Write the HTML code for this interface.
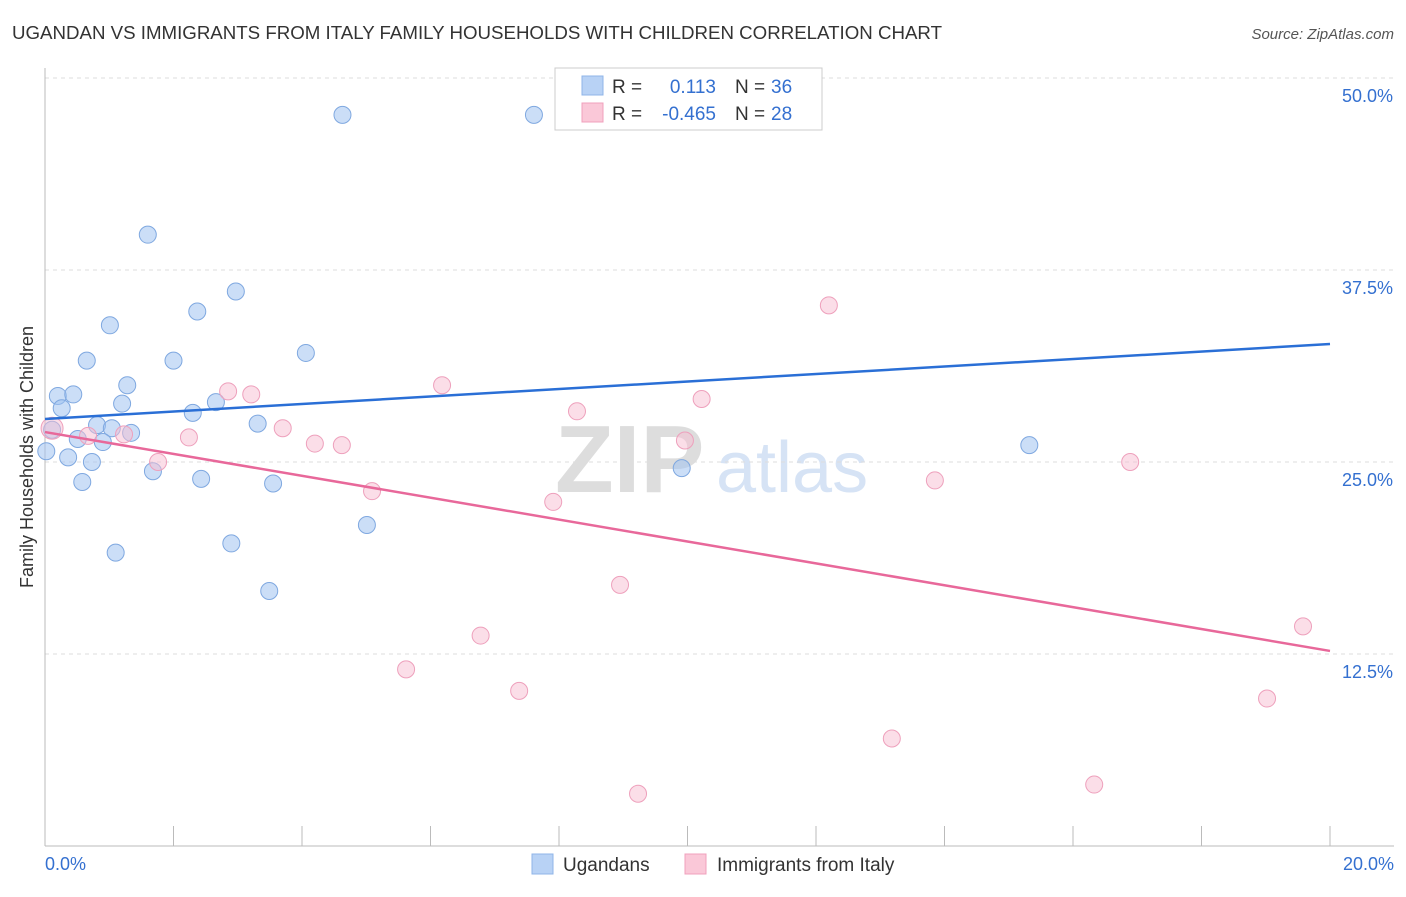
<!DOCTYPE html>
<html><head><meta charset="utf-8"><style>
body{margin:0;background:#fff;font-family:"Liberation Sans",sans-serif;}
svg text{font-family:"Liberation Sans",sans-serif;}
</style></head><body>
<svg id="c" width="1406" height="892">
<text x="12" y="39" font-size="18.7" fill="#333">UGANDAN VS IMMIGRANTS FROM ITALY FAMILY HOUSEHOLDS WITH CHILDREN CORRELATION CHART</text>
<text x="1394" y="39" font-size="15" fill="#555" font-style="italic" text-anchor="end">Source: ZipAtlas.com</text>
<text x="33" y="457" font-size="18" fill="#333" text-anchor="middle" transform="rotate(-90 33 457)">Family Households with Children</text>
<g><text x="555" y="492" font-size="96" fill="#ddd" font-family="Liberation Serif" font-weight="bold">ZIP</text><text x="716" y="492" font-size="72" fill="#d6e3f5">atlas</text></g>
<g id="grid"></g><g id="marks"></g>
<g>
<rect x="555" y="68" width="267" height="62" fill="#fff" stroke="#ccc"/>
<rect x="582" y="76" width="21" height="19" fill="#b8d2f5" stroke="#8fb4e8"/>
<rect x="582" y="103" width="21" height="19" fill="#fac8d8" stroke="#f0a0bc"/>
<text x="612" y="93" font-size="19" fill="#333">R =</text><text x="716" y="93" font-size="19" fill="#3470d0" text-anchor="end">0.113</text>
<text x="735" y="93" font-size="19" fill="#333">N =</text><text x="771" y="93" font-size="19" fill="#3470d0">36</text>
<text x="612" y="120" font-size="19" fill="#333">R =</text><text x="716" y="120" font-size="19" fill="#3470d0" text-anchor="end">-0.465</text>
<text x="735" y="120" font-size="19" fill="#333">N =</text><text x="771" y="120" font-size="19" fill="#3470d0">28</text>
</g>
<g>
<rect x="532" y="854" width="21" height="20" fill="#b8d2f5" stroke="#8fb4e8"/>
<text x="563" y="871" font-size="19" fill="#333">Ugandans</text>
<rect x="685" y="854" width="21" height="20" fill="#fac8d8" stroke="#f0a0bc"/>
<text x="717" y="871" font-size="19" fill="#333">Immigrants from Italy</text>
</g>
</svg>
<script>
const yTicks=[12.5,25,37.5,50];
const yTickLabels=["12.5%","25.0%","37.5%","50.0%"];
const xTicks=[0,2,4,6,8,10,12,14,16,18,20];
const blueX=[4.63,7.61,1.6,2.97,1.01,2.37,4.06,0.65,2.0,1.28,0.2,0.44,0.26,1.2,2.66,2.3,0.81,1.04,1.34,3.31,0.11,0.51,0.90,0.02,0.36,0.73,1.68,9.91,15.32,0.58,2.43,3.55,5.01,1.1,2.9,3.49];
const blueY=[47.6,47.6,39.8,36.1,33.9,34.8,32.1,31.6,31.6,30.0,29.3,29.4,28.5,28.8,28.9,28.2,27.4,27.2,26.9,27.5,27.1,26.5,26.3,25.7,25.3,25.0,24.4,24.6,26.1,23.7,23.9,23.6,20.9,19.1,19.7,16.6];
const pinkX=[0.11,1.23,0.67,2.24,1.76,2.85,3.21,3.7,4.2,4.62,5.09,6.18,8.28,7.91,10.22,9.96,12.2,8.95,6.78,5.62,7.38,9.23,13.18,13.85,16.89,19.58,19.02,16.33];
const pinkY=[27.2,26.8,26.7,26.6,25.0,29.6,29.4,27.2,26.2,26.1,23.1,30.0,28.3,22.4,29.1,26.4,35.2,17.0,13.7,11.5,10.1,3.4,7.0,23.8,25.0,14.3,9.6,4.0];
const blueTrend=[27.8,32.68];
const pinkTrend=[26.95,12.7];
const X=v=>45+v/20*1285, Y=v=>846-v/12.5*192;
const NS="http://www.w3.org/2000/svg";
const grid=document.getElementById('grid'), marks=document.getElementById('marks');
function mk(tag,at,p){const e=document.createElementNS(NS,tag);for(const k in at)e.setAttribute(k,at[k]);p.appendChild(e);return e;}
yTicks.forEach((t,i)=>{
 const g=mk('line',{x1:45,y1:Y(t),x2:1394,y2:Y(t),stroke:'#ddd','stroke-dasharray':'4,4'},grid);
 
 
 const tx=mk('text',{x:1393,y:Y(t)+24,'font-size':18,fill:'#3470d0','text-anchor':'end'},grid);
 tx.textContent=yTickLabels[i];
 
 
});
let a=mk('line',{x1:45,y1:68,x2:45,y2:846,stroke:'#bbb'},grid);


a=mk('line',{x1:45,y1:846,x2:1394,y2:846,stroke:'#bbb'},grid);


xTicks.forEach(t=>{const k=mk('line',{x1:X(t),y1:826,x2:X(t),y2:846,stroke:'#bbb'},grid);
 
 });
let t0=mk('text',{x:45,y:870,'font-size':18,fill:'#3470d0'},grid);t0.textContent='0.0%';


t0=mk('text',{x:1394,y:870,'font-size':18,fill:'#3470d0','text-anchor':'end'},grid);t0.textContent='20.0%';


blueX.forEach((v,i)=>{const c=mk('circle',{cx:X(v),cy:Y(blueY[i]),r:8.5,fill:'rgba(160,195,240,0.55)',stroke:'#7fa8e0','stroke-width':1},marks);
 
 });
pinkX.forEach((v,i)=>{const c=mk('circle',{cx:X(v),cy:Y(pinkY[i]),r:i==0?11:8.5,fill:'rgba(248,190,210,0.5)',stroke:'#eea0bc','stroke-width':1},marks);
 
 });
let tl=mk('line',{x1:X(0),y1:Y(blueTrend[0]),x2:X(20),y2:Y(blueTrend[1]),stroke:'#2a6fd6','stroke-width':2.5},marks);


tl=mk('line',{x1:X(0),y1:Y(pinkTrend[0]),x2:X(20),y2:Y(pinkTrend[1]),stroke:'#e8689a','stroke-width':2.5},marks);


</script>
</body></html>
